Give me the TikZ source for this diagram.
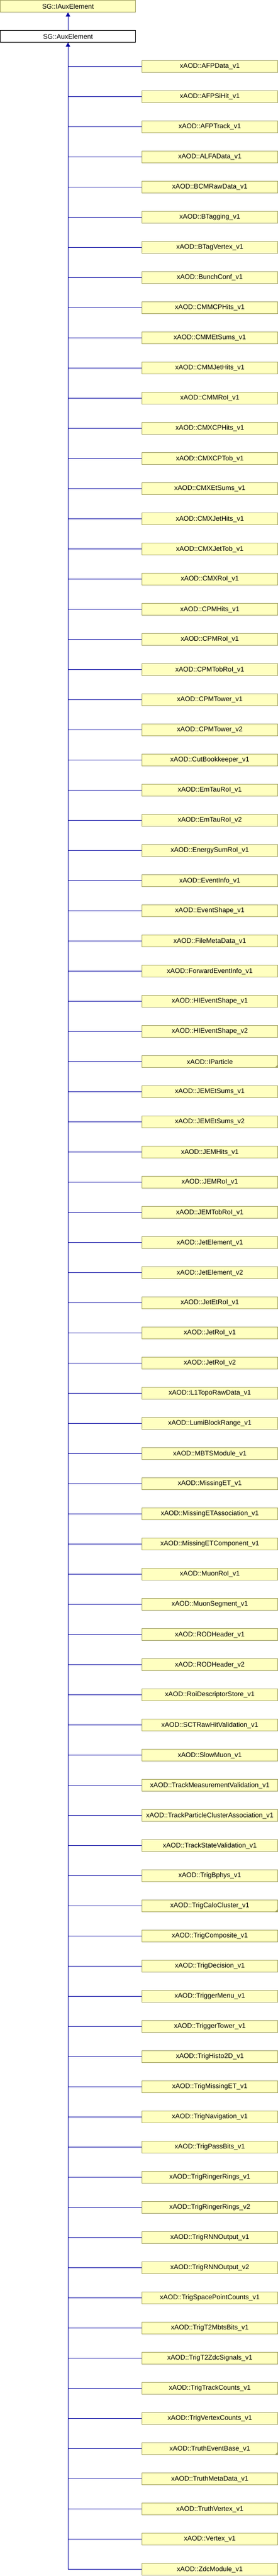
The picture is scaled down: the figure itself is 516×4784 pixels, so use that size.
\documentclass[tikz,border=0pt]{standalone}
\usepackage{fontspec}
\setmainfont{Liberation Sans}
\usetikzlibrary{arrows, positioning}
\definecolor{boxfill}{RGB}{255,255,192}
\definecolor{boxline}{RGB}{160,160,96}
\definecolor{edgeblue}{RGB}{0,0,160}
\tikzstyle{classbox} = [rectangle, minimum width=251.5pt, minimum height=22pt, inner sep=0pt, text centered, draw=boxline, fill=boxfill, line width=1pt, font=\fontsize{12.5}{14}\selectfont]
\tikzstyle{mainclass} = [classbox, draw=black, fill=white]
\tikzstyle{branch} = [draw=edgeblue, line width=1pt]
\tikzstyle{arrow} = [branch, ->, >=triangle 60]
\tikzstyle{morederived} = [fill=boxline]

\begin{document}
\begin{tikzpicture}[x=1pt, y=1pt, node distance=56pt]
    \useasboundingbox (0,0) rectangle (516,-4784);
    \node (iaux) [classbox] at (126.2,-11.7) {SG::IAuxElement};
    \node (aux) [mainclass, below of=iaux] {SG::AuxElement};
    \node (afpdata) [classbox, below of=aux, xshift=263.3pt] {xAOD::AFPData\_v1};
    \node (afpsihit) [classbox, below of=afpdata] {xAOD::AFPSiHit\_v1};
    \node (afptrack) [classbox, below of=afpsihit] {xAOD::AFPTrack\_v1};
    \node (alfadata) [classbox, below of=afptrack] {xAOD::ALFAData\_v1};
    \node (bcmraw) [classbox, below of=alfadata] {xAOD::BCMRawData\_v1};
    \node (btag) [classbox, below of=bcmraw] {xAOD::BTagging\_v1};
    \node (btagvtx) [classbox, below of=btag] {xAOD::BTagVertex\_v1};
    \node (bunchconf) [classbox, below of=btagvtx] {xAOD::BunchConf\_v1};
    \node (cmmcphits) [classbox, below of=bunchconf] {xAOD::CMMCPHits\_v1};
    \node (cmmetsums) [classbox, below of=cmmcphits] {xAOD::CMMEtSums\_v1};
    \node (cmmjethits) [classbox, below of=cmmetsums] {xAOD::CMMJetHits\_v1};
    \node (cmmroi) [classbox, below of=cmmjethits] {xAOD::CMMRoI\_v1};
    \node (cmxcphits) [classbox, below of=cmmroi] {xAOD::CMXCPHits\_v1};
    \node (cmxcptob) [classbox, below of=cmxcphits] {xAOD::CMXCPTob\_v1};
    \node (cmxetsums) [classbox, below of=cmxcptob] {xAOD::CMXEtSums\_v1};
    \node (cmxjethits) [classbox, below of=cmxetsums] {xAOD::CMXJetHits\_v1};
    \node (cmxjettob) [classbox, below of=cmxjethits] {xAOD::CMXJetTob\_v1};
    \node (cmxroi) [classbox, below of=cmxjettob] {xAOD::CMXRoI\_v1};
    \node (cpmhits) [classbox, below of=cmxroi] {xAOD::CPMHits\_v1};
    \node (cpmroi) [classbox, below of=cpmhits] {xAOD::CPMRoI\_v1};
    \node (cpmtobroi) [classbox, below of=cpmroi] {xAOD::CPMTobRoI\_v1};
    \node (cpmtowerv1) [classbox, below of=cpmtobroi] {xAOD::CPMTower\_v1};
    \node (cpmtowerv2) [classbox, below of=cpmtowerv1] {xAOD::CPMTower\_v2};
    \node (cutbook) [classbox, below of=cpmtowerv2] {xAOD::CutBookkeeper\_v1};
    \node (emtauroiv1) [classbox, below of=cutbook] {xAOD::EmTauRoI\_v1};
    \node (emtauroiv2) [classbox, below of=emtauroiv1] {xAOD::EmTauRoI\_v2};
    \node (esumroi) [classbox, below of=emtauroiv2] {xAOD::EnergySumRoI\_v1};
    \node (evtinfo) [classbox, below of=esumroi] {xAOD::EventInfo\_v1};
    \node (evtshape) [classbox, below of=evtinfo] {xAOD::EventShape\_v1};
    \node (filemeta) [classbox, below of=evtshape] {xAOD::FileMetaData\_v1};
    \node (fwdevtinfo) [classbox, below of=filemeta] {xAOD::ForwardEventInfo\_v1};
    \node (hishapev1) [classbox, below of=fwdevtinfo] {xAOD::HIEventShape\_v1};
    \node (hishapev2) [classbox, below of=hishapev1] {xAOD::HIEventShape\_v2};
    \node (ipart) [classbox, below of=hishapev2] {xAOD::IParticle};
    \node (jemetsumsv1) [classbox, below of=ipart] {xAOD::JEMEtSums\_v1};
    \node (jemetsumsv2) [classbox, below of=jemetsumsv1] {xAOD::JEMEtSums\_v2};
    \node (jemhits) [classbox, below of=jemetsumsv2] {xAOD::JEMHits\_v1};
    \node (jemroi) [classbox, below of=jemhits] {xAOD::JEMRoI\_v1};
    \node (jemtobroi) [classbox, below of=jemroi] {xAOD::JEMTobRoI\_v1};
    \node (jetelemv1) [classbox, below of=jemtobroi] {xAOD::JetElement\_v1};
    \node (jetelemv2) [classbox, below of=jetelemv1] {xAOD::JetElement\_v2};
    \node (jetetroi) [classbox, below of=jetelemv2] {xAOD::JetEtRoI\_v1};
    \node (jetroiv1) [classbox, below of=jetetroi] {xAOD::JetRoI\_v1};
    \node (jetroiv2) [classbox, below of=jetroiv1] {xAOD::JetRoI\_v2};
    \node (ltopo) [classbox, below of=jetroiv2] {xAOD::L1TopoRawData\_v1};
    \node (lumiblock) [classbox, below of=ltopo] {xAOD::LumiBlockRange\_v1};
    \node (mbts) [classbox, below of=lumiblock] {xAOD::MBTSModule\_v1};
    \node (met) [classbox, below of=mbts] {xAOD::MissingET\_v1};
    \node (metassoc) [classbox, below of=met] {xAOD::MissingETAssociation\_v1};
    \node (metcomp) [classbox, below of=metassoc] {xAOD::MissingETComponent\_v1};
    \node (muonroi) [classbox, below of=metcomp] {xAOD::MuonRoI\_v1};
    \node (muonseg) [classbox, below of=muonroi] {xAOD::MuonSegment\_v1};
    \node (rodheadv1) [classbox, below of=muonseg] {xAOD::RODHeader\_v1};
    \node (rodheadv2) [classbox, below of=rodheadv1] {xAOD::RODHeader\_v2};
    \node (roistore) [classbox, below of=rodheadv2] {xAOD::RoiDescriptorStore\_v1};
    \node (sctval) [classbox, below of=roistore] {xAOD::SCTRawHitValidation\_v1};
    \node (slowmuon) [classbox, below of=sctval] {xAOD::SlowMuon\_v1};
    \node (trkmeasval) [classbox, below of=slowmuon] {xAOD::TrackMeasurementValidation\_v1};
    \node (trkclusassoc) [classbox, below of=trkmeasval] {xAOD::TrackParticleClusterAssociation\_v1};
    \node (trkstateval) [classbox, below of=trkclusassoc] {xAOD::TrackStateValidation\_v1};
    \node (trigbphys) [classbox, below of=trkstateval] {xAOD::TrigBphys\_v1};
    \node (trigcalo) [classbox, below of=trigbphys] {xAOD::TrigCaloCluster\_v1};
    \node (trigcomp) [classbox, below of=trigcalo] {xAOD::TrigComposite\_v1};
    \node (trigdec) [classbox, below of=trigcomp] {xAOD::TrigDecision\_v1};
    \node (trigmenu) [classbox, below of=trigdec] {xAOD::TriggerMenu\_v1};
    \node (trigtower) [classbox, below of=trigmenu] {xAOD::TriggerTower\_v1};
    \node (trighisto) [classbox, below of=trigtower] {xAOD::TrigHisto2D\_v1};
    \node (trigmet) [classbox, below of=trighisto] {xAOD::TrigMissingET\_v1};
    \node (trignav) [classbox, below of=trigmet] {xAOD::TrigNavigation\_v1};
    \node (trigpass) [classbox, below of=trignav] {xAOD::TrigPassBits\_v1};
    \node (trigringerv1) [classbox, below of=trigpass] {xAOD::TrigRingerRings\_v1};
    \node (trigringerv2) [classbox, below of=trigringerv1] {xAOD::TrigRingerRings\_v2};
    \node (trigrnnv1) [classbox, below of=trigringerv2] {xAOD::TrigRNNOutput\_v1};
    \node (trigrnnv2) [classbox, below of=trigrnnv1] {xAOD::TrigRNNOutput\_v2};
    \node (trigspc) [classbox, below of=trigrnnv2] {xAOD::TrigSpacePointCounts\_v1};
    \node (trigmbts) [classbox, below of=trigspc] {xAOD::TrigT2MbtsBits\_v1};
    \node (trigzdc) [classbox, below of=trigmbts] {xAOD::TrigT2ZdcSignals\_v1};
    \node (trigtrkcnt) [classbox, below of=trigzdc] {xAOD::TrigTrackCounts\_v1};
    \node (trigvtxcnt) [classbox, below of=trigtrkcnt] {xAOD::TrigVertexCounts\_v1};
    \node (truthevt) [classbox, below of=trigvtxcnt] {xAOD::TruthEventBase\_v1};
    \node (truthmeta) [classbox, below of=truthevt] {xAOD::TruthMetaData\_v1};
    \node (truthvtx) [classbox, below of=truthmeta] {xAOD::TruthVertex\_v1};
    \node (vertex) [classbox, below of=truthvtx] {xAOD::Vertex\_v1};
    \node (zdc) [classbox, below of=vertex] {xAOD::ZdcModule\_v1};
    \fill [morederived] (ipart.south east) -- ++(-6,0) -- ++(6,6) -- cycle;
    \fill [morederived] (trigcalo.south east) -- ++(-6,0) -- ++(6,6) -- cycle;
    \fill [morederived] (truthevt.south east) -- ++(-6,0) -- ++(6,6) -- cycle;
    \draw [arrow] (aux) -- (iaux);
    \draw [arrow] (zdc.west) -| (aux.south);
    \draw [branch] (afpdata.west) -| (aux.south);
    \draw [branch] (afpsihit.west) -| (aux.south);
    \draw [branch] (afptrack.west) -| (aux.south);
    \draw [branch] (alfadata.west) -| (aux.south);
    \draw [branch] (bcmraw.west) -| (aux.south);
    \draw [branch] (btag.west) -| (aux.south);
    \draw [branch] (btagvtx.west) -| (aux.south);
    \draw [branch] (bunchconf.west) -| (aux.south);
    \draw [branch] (cmmcphits.west) -| (aux.south);
    \draw [branch] (cmmetsums.west) -| (aux.south);
    \draw [branch] (cmmjethits.west) -| (aux.south);
    \draw [branch] (cmmroi.west) -| (aux.south);
    \draw [branch] (cmxcphits.west) -| (aux.south);
    \draw [branch] (cmxcptob.west) -| (aux.south);
    \draw [branch] (cmxetsums.west) -| (aux.south);
    \draw [branch] (cmxjethits.west) -| (aux.south);
    \draw [branch] (cmxjettob.west) -| (aux.south);
    \draw [branch] (cmxroi.west) -| (aux.south);
    \draw [branch] (cpmhits.west) -| (aux.south);
    \draw [branch] (cpmroi.west) -| (aux.south);
    \draw [branch] (cpmtobroi.west) -| (aux.south);
    \draw [branch] (cpmtowerv1.west) -| (aux.south);
    \draw [branch] (cpmtowerv2.west) -| (aux.south);
    \draw [branch] (cutbook.west) -| (aux.south);
    \draw [branch] (emtauroiv1.west) -| (aux.south);
    \draw [branch] (emtauroiv2.west) -| (aux.south);
    \draw [branch] (esumroi.west) -| (aux.south);
    \draw [branch] (evtinfo.west) -| (aux.south);
    \draw [branch] (evtshape.west) -| (aux.south);
    \draw [branch] (filemeta.west) -| (aux.south);
    \draw [branch] (fwdevtinfo.west) -| (aux.south);
    \draw [branch] (hishapev1.west) -| (aux.south);
    \draw [branch] (hishapev2.west) -| (aux.south);
    \draw [branch] (ipart.west) -| (aux.south);
    \draw [branch] (jemetsumsv1.west) -| (aux.south);
    \draw [branch] (jemetsumsv2.west) -| (aux.south);
    \draw [branch] (jemhits.west) -| (aux.south);
    \draw [branch] (jemroi.west) -| (aux.south);
    \draw [branch] (jemtobroi.west) -| (aux.south);
    \draw [branch] (jetelemv1.west) -| (aux.south);
    \draw [branch] (jetelemv2.west) -| (aux.south);
    \draw [branch] (jetetroi.west) -| (aux.south);
    \draw [branch] (jetroiv1.west) -| (aux.south);
    \draw [branch] (jetroiv2.west) -| (aux.south);
    \draw [branch] (ltopo.west) -| (aux.south);
    \draw [branch] (lumiblock.west) -| (aux.south);
    \draw [branch] (mbts.west) -| (aux.south);
    \draw [branch] (met.west) -| (aux.south);
    \draw [branch] (metassoc.west) -| (aux.south);
    \draw [branch] (metcomp.west) -| (aux.south);
    \draw [branch] (muonroi.west) -| (aux.south);
    \draw [branch] (muonseg.west) -| (aux.south);
    \draw [branch] (rodheadv1.west) -| (aux.south);
    \draw [branch] (rodheadv2.west) -| (aux.south);
    \draw [branch] (roistore.west) -| (aux.south);
    \draw [branch] (sctval.west) -| (aux.south);
    \draw [branch] (slowmuon.west) -| (aux.south);
    \draw [branch] (trkmeasval.west) -| (aux.south);
    \draw [branch] (trkclusassoc.west) -| (aux.south);
    \draw [branch] (trkstateval.west) -| (aux.south);
    \draw [branch] (trigbphys.west) -| (aux.south);
    \draw [branch] (trigcalo.west) -| (aux.south);
    \draw [branch] (trigcomp.west) -| (aux.south);
    \draw [branch] (trigdec.west) -| (aux.south);
    \draw [branch] (trigmenu.west) -| (aux.south);
    \draw [branch] (trigtower.west) -| (aux.south);
    \draw [branch] (trighisto.west) -| (aux.south);
    \draw [branch] (trigmet.west) -| (aux.south);
    \draw [branch] (trignav.west) -| (aux.south);
    \draw [branch] (trigpass.west) -| (aux.south);
    \draw [branch] (trigringerv1.west) -| (aux.south);
    \draw [branch] (trigringerv2.west) -| (aux.south);
    \draw [branch] (trigrnnv1.west) -| (aux.south);
    \draw [branch] (trigrnnv2.west) -| (aux.south);
    \draw [branch] (trigspc.west) -| (aux.south);
    \draw [branch] (trigmbts.west) -| (aux.south);
    \draw [branch] (trigzdc.west) -| (aux.south);
    \draw [branch] (trigtrkcnt.west) -| (aux.south);
    \draw [branch] (trigvtxcnt.west) -| (aux.south);
    \draw [branch] (truthevt.west) -| (aux.south);
    \draw [branch] (truthmeta.west) -| (aux.south);
    \draw [branch] (truthvtx.west) -| (aux.south);
    \draw [branch] (vertex.west) -| (aux.south);
\end{tikzpicture}
\end{document}
